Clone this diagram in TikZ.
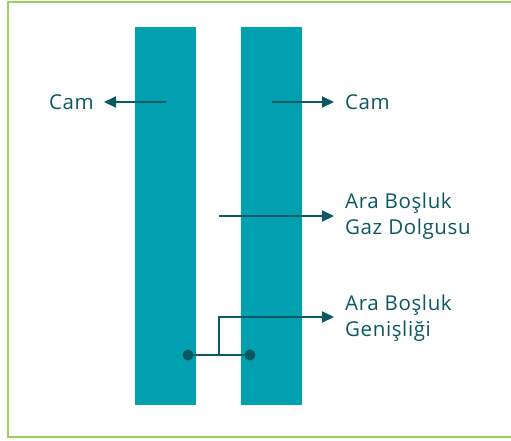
\documentclass[tikz,border=0pt]{standalone}
\usepackage{fontspec}
\setmainfont[LetterSpace=3]{Open Sans}
\usetikzlibrary{arrows.meta}
\definecolor{glass}{HTML}{00A0B0}
\definecolor{ink}{HTML}{0B5762}
\definecolor{framegreen}{HTML}{9BCF5F}
\begin{document}
\begin{tikzpicture}[x=1pt,y=-1pt,
  pane/.style={fill=glass,draw=none},
  leader/.style={draw=ink,line width=2pt,-{Triangle[length=12pt,width=11pt]}},
  plain/.style={draw=ink,line width=2pt},
  label/.style={text=ink,font=\fontsize{20.5}{25.5}\selectfont,align=left,inner sep=0pt},
  dot/.style={circle,fill=ink,minimum size=11pt,inner sep=0pt}]
\useasboundingbox (0,0) rectangle (511,440);
% outer frame (open on the right)
\draw[framegreen,line width=2pt] (520,1.5) -- (8,1.5) -- (8,436.5) -- (520,436.5);
% the two glass panes
\fill[pane] (135,27) rectangle (196,405);
\fill[pane] (241,27) rectangle (302,405);
% labels
\node[label,anchor=east] (camL) at (94,102) {Cam};
\node[label,anchor=west] (camR) at (345,102) {Cam};
\node[label,anchor=west] (gas) at (345,216) {Ara Boşluk\\Gaz Dolgusu};
\node[label,anchor=west] (gap) at (345,318) {Ara Boşluk\\Genişliği};
% arrow anchors
\coordinate (cl) at (166,102);
\coordinate (cr) at (272,102);
\coordinate (gs) at (219,216);
\coordinate (tip1) at (334,102);
\coordinate (tip2) at (104,102);
\coordinate (tip3) at (334,216);
\coordinate (tip4) at (334,317);
\coordinate (mid) at (219,355);
\draw[leader] (cl) -- (tip2);
\draw[leader] (cr) -- (tip1);
\draw[leader] (gs) -- (tip3);
% gap width dimension
\node[dot] (d1) at (188,355) {};
\node[dot] (d2) at (250,355) {};
\draw[plain] (d1.center) -- (d2.center);
\draw[leader] (mid) -- (219,317) -- (tip4);
\end{tikzpicture}
\end{document}
